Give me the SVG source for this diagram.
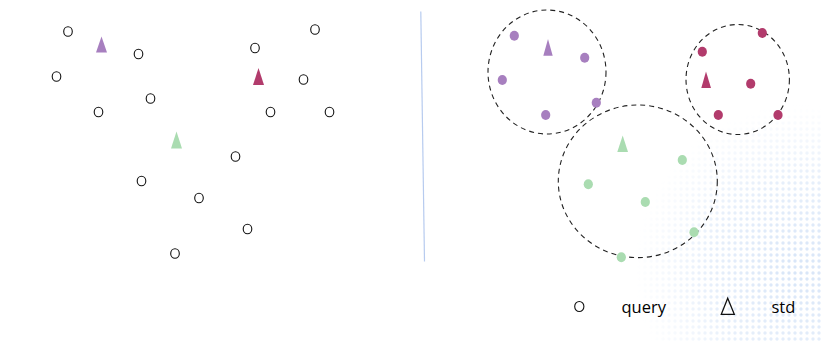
<svg xmlns="http://www.w3.org/2000/svg" width="823" height="341" viewBox="0 0 823 341">
<defs>
<style>
.q{fill:none;stroke:#111;stroke-width:1.1}
.pu{fill:#a77fbf}
.cr{fill:#b23b6c}
.gr{fill:#aadcb1}
.ring{fill:none;stroke:#222;stroke-width:1.1;stroke-dasharray:5 4}
.lbl{font-family:"Open Sans","Noto Sans",sans-serif;font-size:16.5px;fill:#000}
</style>
<pattern id="dots" width="6" height="6" patternUnits="userSpaceOnUse">
<circle cx="3" cy="3" r="1.7" fill="#d3e2f7"/>
</pattern>
<radialGradient id="fade" cx="800" cy="270" r="165" gradientUnits="userSpaceOnUse">
<stop offset="0" stop-color="#fff" stop-opacity="0.9"/>
<stop offset="0.55" stop-color="#fff" stop-opacity="0.55"/>
<stop offset="1" stop-color="#fff" stop-opacity="0"/>
</radialGradient>
<mask id="m"><rect x="0" y="0" width="823" height="341" fill="url(#fade)"/></mask>
</defs>
<rect width="823" height="341" fill="#fff"/>
<rect x="0" y="0" width="823" height="341" fill="url(#dots)" mask="url(#m)"/>

<g id="left-panel">
<g id="left-queries">
<ellipse class="q" cx="68" cy="31.5" rx="4.3" ry="4.8"/>
<ellipse class="q" cx="138.5" cy="54" rx="4.3" ry="4.8"/>
<ellipse class="q" cx="56.5" cy="76.5" rx="4.3" ry="4.8"/>
<ellipse class="q" cx="150.5" cy="98.5" rx="4.3" ry="4.8"/>
<ellipse class="q" cx="98.5" cy="112" rx="4.3" ry="4.8"/>
<ellipse class="q" cx="255" cy="48" rx="4.3" ry="4.8"/>
<ellipse class="q" cx="315" cy="29.5" rx="4.3" ry="4.8"/>
<ellipse class="q" cx="303.5" cy="79.5" rx="4.3" ry="4.8"/>
<ellipse class="q" cx="270.5" cy="112" rx="4.3" ry="4.8"/>
<ellipse class="q" cx="329.5" cy="112" rx="4.3" ry="4.8"/>
<ellipse class="q" cx="235.5" cy="156.5" rx="4.3" ry="4.8"/>
<ellipse class="q" cx="141.5" cy="181" rx="4.3" ry="4.8"/>
<ellipse class="q" cx="199" cy="198" rx="4.3" ry="4.8"/>
<ellipse class="q" cx="247.5" cy="229" rx="4.3" ry="4.8"/>
<ellipse class="q" cx="175" cy="253.5" rx="4.3" ry="4.8"/>
</g>
<polygon id="left-std-purple" class="pu" points="101.5,36.5 96,52.5 107,52.5"/>
<polygon id="left-std-crimson" class="cr" points="258.5,68 253,85 264,85"/>
<polygon id="left-std-green" class="gr" points="176.5,131.5 171,148.5 182,148.5"/>
</g>

<line id="separator" x1="420.8" y1="11.5" x2="424.5" y2="261.5" stroke="#b7cbef" stroke-width="1.2"/>

<g id="right-panel">
<g id="cluster-purple">
<ellipse class="ring" cx="547" cy="72" rx="59" ry="62"/>
<polygon class="pu" points="548,39 543.3,55.8 552.7,55.8"/>
<ellipse class="pu" cx="514.3" cy="35.7" rx="4.6" ry="5"/>
<ellipse class="pu" cx="584.7" cy="57.7" rx="4.6" ry="5"/>
<ellipse class="pu" cx="502.3" cy="80" rx="4.6" ry="5"/>
<ellipse class="pu" cx="545.7" cy="115" rx="4.6" ry="5"/>
<ellipse class="pu" cx="596.3" cy="102.7" rx="4.6" ry="5"/>
</g>
<g id="cluster-crimson">
<ellipse class="ring" cx="737.7" cy="79.5" rx="51.7" ry="55"/>
<polygon class="cr" points="706,71.5 701.3,88 711,88"/>
<ellipse class="cr" cx="762.3" cy="33" rx="4.6" ry="5"/>
<ellipse class="cr" cx="702.3" cy="51.7" rx="4.6" ry="5"/>
<ellipse class="cr" cx="750.7" cy="83.7" rx="4.6" ry="5"/>
<ellipse class="cr" cx="718.3" cy="115" rx="4.6" ry="5"/>
<ellipse class="cr" cx="778" cy="115" rx="4.6" ry="5"/>
</g>
<g id="cluster-green">
<ellipse class="ring" cx="637.8" cy="181.3" rx="79.5" ry="76.3"/>
<polygon class="gr" points="622.7,135.5 617.3,152 628,152"/>
<ellipse class="gr" cx="682.3" cy="160" rx="4.6" ry="5"/>
<ellipse class="gr" cx="588.3" cy="184.3" rx="4.6" ry="5"/>
<ellipse class="gr" cx="645.3" cy="202" rx="4.6" ry="5"/>
<ellipse class="gr" cx="694" cy="232.3" rx="4.6" ry="5"/>
<ellipse class="gr" cx="621.3" cy="257.3" rx="4.6" ry="5"/>
</g>
</g>

<g id="legend">
<g id="legend-query">
<ellipse class="q" cx="579.3" cy="306.5" rx="4.6" ry="5"/>
<text class="lbl" x="621.5" y="313">query</text>
</g>
<g id="legend-std">
<polygon points="727.7,298.3 721.3,314.3 734.3,314.3" fill="none" stroke="#111" stroke-width="1.3" stroke-linejoin="miter"/>
<text class="lbl" x="771.5" y="313">std</text>
</g>
</g>
</svg>
